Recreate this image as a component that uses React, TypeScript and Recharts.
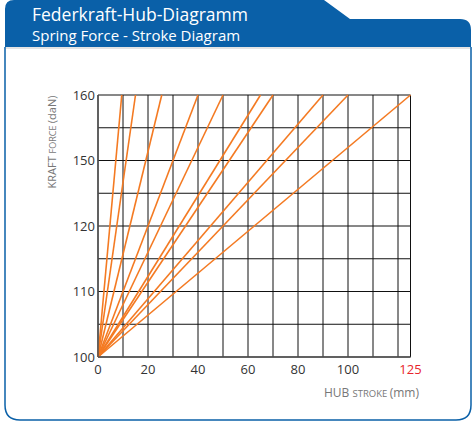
import React from 'react';
import { LineChart, Line, XAxis, YAxis, CartesianGrid } from 'recharts';

// stroke (mm) where each spring line reaches the top of the chart
const strokeEnds = [9.5, 15, 25.5, 40, 50, 65, 70, 90, 100, 125];
// force rows, bottom to top (chart is not linear in force)
const forceRows = ['100', '', '110', '', '120', '', '150', '', '160'];
const strokeGrid = [0, 10, 20, 30, 40, 50, 60, 70, 80, 90, 100, 110, 120, 125];
const strokeLabels = [0, 20, 40, 60, 80, 100, 125];

const BLUE = '#0A60A8';
const ORANGE = '#F47A22';

const series = strokeEnds.map((end) => [
  { x: 0, y: 0 },
  { x: end, y: forceRows.length - 1 },
]);

const XTick = ({ x, y, payload }: any) => {
  if (!strokeLabels.includes(payload.value)) return null;
  const isMax = payload.value === 125;
  return (
    <text x={x} y={y} dy="0.75em" textAnchor="middle" fontSize={13}
      fill={isMax ? '#E8252B' : '#333'} fontFamily="Open Sans, sans-serif">
      {payload.value}
    </text>
  );
};

const YTick = ({ x, y, payload }: any) => {
  const label = forceRows[payload.value];
  if (!label) return null;
  return (
    <text x={x} y={y} dy="0.35em" textAnchor="end" fontSize={13}
      fill="#333" fontFamily="Open Sans, sans-serif">
      {label}
    </text>
  );
};

const App = () => {
  return (
    <div style={{ position: 'absolute', left: 0, top: 0, width: 472, height: 421, background: '#fff' }}>
      <svg width={472} height={421} style={{ position: 'absolute', left: 0, top: 0 }}>
        <path d="M5,47 L5,405 Q5,420 20,420 L456,420 Q471,420 471,405 L471,47"
          fill="none" stroke={BLUE} strokeWidth={1.5} />
        <path d="M5,9 Q5,0 14,0 L324,0 L350,19 L460,19 Q471,19 471,30 L471,47 L5,47 Z" fill={BLUE} />
        <line x1={6} x2={470} y1={48} y2={48} stroke="#c8c8c8" strokeWidth={1} />
        <text x={32} y={21} fontSize={17.5} fill="#fff" fontFamily="Open Sans, sans-serif">
          Federkraft-Hub-Diagramm
        </text>
        <text x={32} y={41} fontSize={15} fill="#fff" fontFamily="Open Sans, sans-serif">
          Spring Force - Stroke Diagram
        </text>
        <text transform="translate(56,142) rotate(-90)" textAnchor="middle" fill="#777"
          fontFamily="Open Sans, sans-serif">
          <tspan fontSize={11}>KRAFT </tspan>
          <tspan fontSize={9}>FORCE </tspan>
          <tspan fontSize={11}>(daN)</tspan>
        </text>
        <text x={419} y={397} textAnchor="end" fill="#777" fontFamily="Open Sans, sans-serif">
          <tspan fontSize={12}>HUB </tspan>
          <tspan fontSize={9.5}>STROKE </tspan>
          <tspan fontSize={12}>(mm)</tspan>
        </text>
      </svg>
      <div style={{ position: 'absolute', left: 0, top: 0 }}>
        <LineChart width={472} height={421} margin={{ top: 95, right: 61.5, bottom: 34, left: 38 }}>
          <CartesianGrid stroke="#111" strokeWidth={1} />
          <XAxis type="number" dataKey="x" domain={[0, 125]} ticks={strokeGrid}
            interval={0} height={30} tickLine={false} tickSize={0} tickMargin={7}
            axisLine={{ stroke: '#555', strokeWidth: 1.5 }} tick={<XTick />} allowDuplicatedCategory={false} />
          <YAxis type="number" domain={[0, forceRows.length - 1]}
            ticks={forceRows.map((_, i) => i)} interval={0} width={60}
            tickLine={false} tickSize={0} tickMargin={3}
            axisLine={{ stroke: '#555', strokeWidth: 1.5 }} tick={<YTick />} />
          {series.map((d, i) => (
            <Line key={i} data={d} dataKey="y" stroke={ORANGE} strokeWidth={1.6}
              dot={false} activeDot={false} isAnimationActive={false} />
          ))}
        </LineChart>
      </div>
    </div>
  );
};

export default App;
